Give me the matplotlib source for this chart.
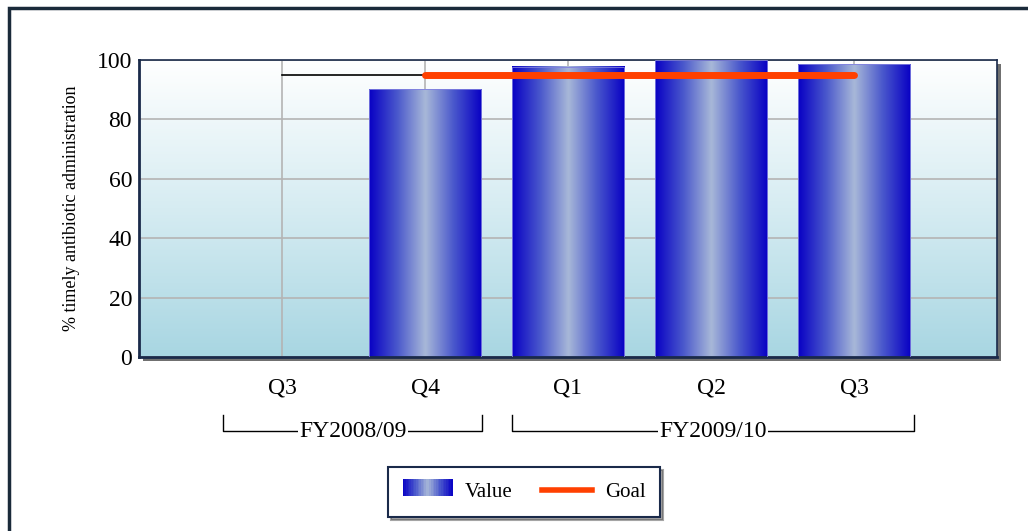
import numpy as np
import matplotlib
matplotlib.use('Agg')
import matplotlib.pyplot as plt
from matplotlib.colors import LinearSegmentedColormap
from matplotlib.patches import Rectangle
from matplotlib.lines import Line2D
import matplotlib.transforms as mtransforms

# data
quarters = ['Q3', 'Q4', 'Q1', 'Q2', 'Q3']
values = [np.nan, 90.2, 97.7, 100.0, 98.5]
goal = [95, 95, 95, 95, 95]
years = ['FY2008/09', 'FY2009/10']
year_spans = [(-0.41, 1.40), (1.61, 4.42)]

plt.rcParams['font.family'] = ['Liberation Serif', 'DejaVu Serif']

bar_cmap = LinearSegmentedColormap.from_list('bar', ['#0800c4', '#4a58cc', '#a8b8d8', '#4a58cc', '#0800c4'])
bg_cmap = LinearSegmentedColormap.from_list('bg', ['#ffffff', '#d6ecf2', '#a8d6e2'])

fig = plt.figure(figsize=(10.28, 5.31), dpi=100)
ax = fig.add_axes([139/1028, 1 - 357/531, 858/1028, 297/531])

x = np.arange(len(quarters))
ax.set_xlim(-1, 5)
ax.set_ylim(0, 100)

# background gradient
grad = np.linspace(0, 1, 256).reshape(-1, 1)
ax.imshow(grad, cmap=bg_cmap, extent=(0, 1, 0, 1), transform=ax.transAxes,
          aspect='auto', zorder=0, origin='upper')

ax.set_yticks([0, 20, 40, 60, 80, 100])
ax.set_xticks(x)
ax.set_xticklabels(quarters)
ax.grid(True, color='#b4b4b4', linewidth=1.2, zorder=1)
ax.set_axisbelow(True)

bars = ax.bar(x, np.nan_to_num(values), width=0.79, facecolor='none',
              edgecolor='#8080e0', linewidth=0.6, zorder=3)
hgrad = np.linspace(0, 1, 256).reshape(1, -1)
for b, v in zip(bars, values):
    if np.isnan(v):
        continue
    ax.imshow(hgrad, cmap=bar_cmap, aspect='auto', zorder=2,
              extent=(b.get_x(), b.get_x() + b.get_width(), 0, b.get_height()))

# goal line: first segment thin black, rest thick orange
ax.plot(x[:2], goal[:2], color='black', linewidth=1.2, zorder=4)
ax.plot(x[1:], goal[1:], color='#ff4000', linewidth=5, solid_capstyle='round', zorder=4)

ax.set_xlim(-1, 5)
ax.set_ylim(0, 100)

for s in ax.spines.values():
    s.set_color('#1a2a4a')
    s.set_linewidth(1.2)
ax.spines['bottom'].set_linewidth(2)
ax.spines['left'].set_linewidth(2)
ax.tick_params(axis='both', length=0, labelsize=17)
ax.tick_params(axis='x', pad=15)
ax.tick_params(axis='y', pad=5)
ax.set_ylabel('% timely antibiotic administration', fontsize=13, labelpad=12)

# shadow of plot area
sh = Rectangle((139/1028 + 4/1028, 1 - 357/531 - 4/531), 858/1028, 297/531,
               transform=fig.transFigure, facecolor='#707070', edgecolor='none', zorder=-1)
fig.patches.append(sh)

# year group brackets
trans = mtransforms.blended_transform_factory(ax.transData, ax.transAxes)
for name, (a, b) in zip(years, year_spans):
    ax.plot([a, a, b, b], [-0.195, -0.25, -0.25, -0.195], color='black', linewidth=1,
            transform=trans, clip_on=False)
    ax.text((a + b) / 2, -0.25, name, transform=trans,
            ha='center', va='center', fontsize=17,
            bbox=dict(facecolor='white', edgecolor='none', pad=1))

# outer frame
fig.patches.append(Rectangle((9/1028, -0.1), 1.1, 1 - 8/531 + 0.1, transform=fig.transFigure,
                             facecolor='none', edgecolor='#1a2a3a', linewidth=2.5))


class GradHandler:
    def legend_artist(self, legend, orig_handle, fontsize, handlebox):
        x0, y0 = handlebox.xdescent, handlebox.ydescent
        w, h = handlebox.width, handlebox.height
        n = 30
        r = None
        for i in range(n):
            r = Rectangle((x0 + w * i / n, y0), w / n + 0.3, h,
                          facecolor=bar_cmap((i + 0.5) / n), edgecolor='none',
                          transform=handlebox.get_transform())
            handlebox.add_artist(r)
        return r


value_handle = Rectangle((0, 0), 1, 1)
goal_handle = Line2D([0], [0], color='#ff4000', linewidth=4)
leg = fig.legend([value_handle, goal_handle], ['Value', 'Goal'], ncol=2,
                 handler_map={Rectangle: GradHandler()},
                 loc='center', bbox_to_anchor=(524/1028, 1 - 492/531),
                 fontsize=15, frameon=True, fancybox=False, shadow=True,
                 handlelength=2.4, handleheight=0.9, columnspacing=1.4,
                 borderpad=0.7, handletextpad=0.6)
leg.get_frame().set_edgecolor('#1a2a4a')
leg.get_frame().set_linewidth(1.5)

fig.savefig('out.png', dpi=100)
